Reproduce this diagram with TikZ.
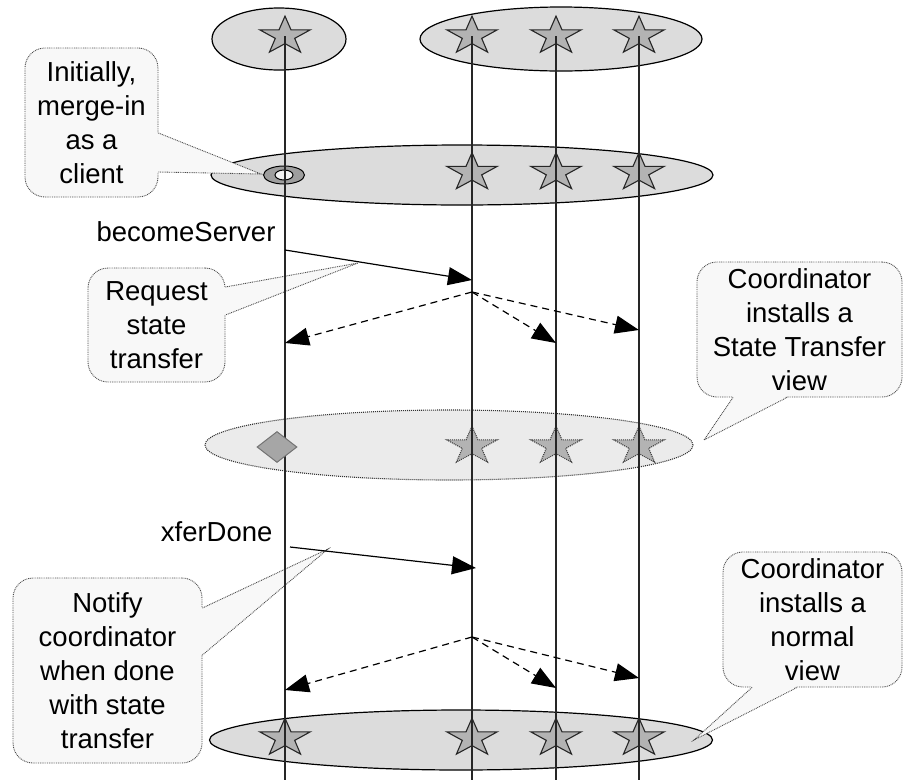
\documentclass[tikz,border=0pt]{standalone}
\usepackage{fontspec}
\setmainfont{Liberation Sans}
\usetikzlibrary{shapes.geometric,arrows.meta}

\definecolor{viewgray}{HTML}{DCDCDC}
\definecolor{xferview}{HTML}{EBEBEB}
\definecolor{stargray}{HTML}{B3B3B3}
\definecolor{notefill}{HTML}{F8F8F8}

\begin{document}
\begin{tikzpicture}[x=1pt,y=-1pt,
  txt/.style={font=\fontsize{27.5}{34}\selectfont},
  view/.style={ellipse, draw=black, line width=1.2pt, fill=viewgray, inner sep=0pt},
  xview/.style={ellipse, draw=black!80, line width=1.1pt, dash pattern=on 1pt off 1pt, fill=xferview, inner sep=0pt},
  member/.style={star, star points=5, star point ratio=2.6, minimum size=53pt, inner sep=0pt,
    draw=black!85, line width=1.1pt, fill=stargray, yscale=0.75, transform shape},
  xmember/.style={member, draw=black!75, dash pattern=on 1pt off 1pt},
  dotline/.style={draw=black!70, line width=0.9pt, dash pattern=on 0.9pt off 0.9pt},
  note/.style={txt, rectangle, rounded corners=20pt, dotline, fill=notefill, align=center, inner sep=0pt},
  lifeline/.style={draw=black!85, line width=1.2pt},
  msg/.style={line width=1.2pt, -{Triangle[length=24pt,width=18pt]}},
  cast/.style={msg, dash pattern=on 7pt off 5pt}
]
\useasboundingbox (0,0) rectangle (903,780);

% ---- group views ----
\node[view, minimum width=134pt, minimum height=62pt] (v0a) at (279,39) {};
\node[view, minimum width=282pt, minimum height=64pt] (v0b) at (561,39) {};
\node[view, minimum width=502pt, minimum height=60pt] (v1) at (462,175) {};
\node[xview, minimum width=488pt, minimum height=70pt] (v2) at (449,445) {};
\node[view, minimum width=503pt, minimum height=60pt] (v3) at (461,740) {};

% ---- members ----
\node[member] (a0) at (285,36) {};
\node[member] (b0) at (472,36) {};
\node[member] (c0) at (556,36) {};
\node[member] (d0) at (639,36) {};

\node[ellipse, minimum width=41pt, minimum height=18pt, inner sep=0pt, fill=black!38, draw=black, line width=1pt] (ring) at (284,175) {};
\node[ellipse, minimum width=18pt, minimum height=10pt, inner sep=0pt, fill=black!5, draw=black, line width=1pt] (ringin) at (284,175) {};
\node[member] (b1) at (472,172.5) {};
\node[member] (c1) at (556,172.5) {};
\node[member] (d1) at (639,172.5) {};

\node[xmember] (b2) at (472,446) {};
\node[xmember] (c2) at (556,446) {};
\node[xmember] (d2) at (639,446) {};

\node[member] (a3) at (285,738) {};
\node[member] (b3) at (472,738) {};
\node[member] (c3) at (556,738) {};
\node[member] (d3) at (639,738) {};

% ---- callouts ----
\node[note, minimum width=133pt, minimum height=149pt] (n1) at (91.5,122.5) {Initially,\\merge-in\\as a\\client};
\coordinate (t1) at (261,174);
\fill[notefill] ([xshift=-1.5pt,yshift=-10.5pt]n1.east) -- (t1) -- ([xshift=-1.5pt,yshift=-49.5pt]n1.east) -- cycle;
\draw[dotline] ([yshift=-10.5pt]n1.east) -- (t1) -- ([yshift=-49.5pt]n1.east);

\node[note, minimum width=137pt, minimum height=114pt] (n2) at (156.5,325) {Request\\state\\transfer};
\coordinate (t2) at (358,263);
\fill[notefill] ([xshift=-1.5pt,yshift=38pt]n2.east) -- (t2) -- ([xshift=-1.5pt,yshift=10pt]n2.east) -- cycle;
\draw[dotline] ([yshift=38pt]n2.east) -- (t2) -- ([yshift=10pt]n2.east);

\node[note, minimum width=205pt, minimum height=135pt] (n3) at (799.5,329.5) {Coordinator\\installs a\\State Transfer\\view};
\coordinate (t3) at (704,440);
\fill[notefill] ([xshift=-66.5pt,yshift=1.5pt]n3.south) -- (t3) -- ([xshift=-12.5pt,yshift=1.5pt]n3.south) -- cycle;
\draw[dotline] ([xshift=-66.5pt]n3.south) -- (t3) -- ([xshift=-12.5pt]n3.south);

\node[note, minimum width=189pt, minimum height=185pt] (n4) at (107.5,670.5) {Notify\\coordinator\\when done\\with state\\transfer};
\coordinate (t4) at (328,549);
\fill[notefill] ([xshift=-1.5pt,yshift=62.5pt]n4.east) -- (t4) -- ([xshift=-1.5pt,yshift=15.5pt]n4.east) -- cycle;
\draw[dotline] ([yshift=62.5pt]n4.east) -- (t4) -- ([yshift=15.5pt]n4.east);

\node[note, minimum width=179pt, minimum height=135pt] (n5) at (812.5,619.5) {Coordinator\\installs a\\normal\\view};
\coordinate (t5) at (694,740);
\fill[notefill] ([xshift=-60.5pt,yshift=1.5pt]n5.south) -- (t5) -- ([xshift=-15.5pt,yshift=1.5pt]n5.south) -- cycle;
\draw[dotline] ([xshift=-60.5pt]n5.south) -- (t5) -- ([xshift=-15.5pt]n5.south);

% ---- lifelines ----
\coordinate (aend) at (285,780);
\coordinate (bend) at (472,780);
\coordinate (cend) at (556,780);
\coordinate (dend) at (639,780);
\draw[lifeline] (a0.center) -- (aend);
\draw[lifeline] (b0.center) -- (bend);
\draw[lifeline] (c0.center) -- (cend);
\draw[lifeline] (d0.center) -- (dend);

\node[diamond, minimum width=40pt, minimum height=31pt, shape aspect=1.3, inner sep=0pt, fill=black!35, draw=black!55, line width=1pt] (joiner) at (277,447) {};

% ---- messages ----
\node[txt, anchor=base east] (lbs) at (279,241) {becomeServer};
\coordinate (bsFrom) at (285,250);
\coordinate (bsTo) at (472,280);
\draw[msg] (bsFrom) -- (bsTo);

\coordinate (cast1) at (472,292);
\coordinate (r1a) at (285,343);
\coordinate (r1c) at (556,343);
\coordinate (r1d) at (639,330);
\draw[cast] (cast1) -- (r1a);
\draw[cast] (cast1) -- (r1c);
\draw[cast] (cast1) -- (r1d);

\node[txt, anchor=base east] (lxd) at (276,541) {xferDone};
\coordinate (xdFrom) at (290,547);
\coordinate (xdTo) at (476,568);
\draw[msg] (xdFrom) -- (xdTo);

\coordinate (cast2) at (472,637);
\coordinate (r2a) at (285,690);
\coordinate (r2c) at (556,688);
\coordinate (r2d) at (639,678);
\draw[cast] (cast2) -- (r2a);
\draw[cast] (cast2) -- (r2c);
\draw[cast] (cast2) -- (r2d);
\end{tikzpicture}
\end{document}
